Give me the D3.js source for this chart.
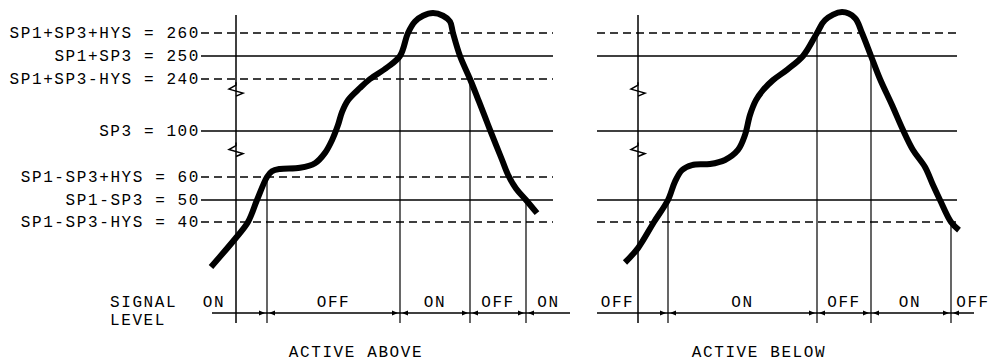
<!DOCTYPE html>
<html>
<head>
<meta charset="utf-8">
<script src="https://cdn.jsdelivr.net/npm/d3@7"></script>
<style>
  body { margin: 0; background: #fff; }
  svg { display: block; }
  text { font-family: "Liberation Mono", "DejaVu Sans Mono", monospace; font-size: 16px; letter-spacing: 1.6px; fill: #000; }
</style>
</head>
<body>
<svg id="chart" width="990" height="364"></svg>
<script>
// threshold levels (left axis)
const levelValues = [260, 250, 240, 100, 60, 50, 40];
const levelNames = ["SP1+SP3+HYS", "SP1+SP3", "SP1+SP3-HYS", "SP3", "SP1-SP3+HYS", "SP1-SP3", "SP1-SP3-HYS"];
// levels drawn in the "active below" panel
const belowLevels = [260, 250, 100, 50, 40];

// measured signal, left panel (time, value)
const aboveT = [-10, 0, 4.8, 8.4, 12.4, 14.4, 17.6, 25.6, 31.6, 35.6, 38.4, 40.8, 42.4, 44.8, 49.6, 53.6, 60.4, 65.6, 68.8, 71.6, 74.8, 78.8, 82.8, 85.6, 86.8, 89.6, 93.6, 96.8, 99.6, 101.6, 104, 106.4, 108.8, 112, 116, 120.4];
const aboveV = [20, 33, 40, 50, 60, 65, 67, 68, 72, 81, 92, 116, 151, 183, 216, 240, 245, 250, 260, 265, 267.5, 268.7, 267.5, 265, 260, 250, 240, 186, 138, 103, 88, 75, 62, 55, 50, 44];
// measured signal, right panel
const belowT = [-5.2, 0, 6.4, 12, 14.8, 17.6, 21.6, 28.8, 34.8, 40, 42.8, 44.8, 47.2, 50, 54, 59.6, 66, 71.6, 74.8, 81.6, 86.8, 89.6, 93.2, 96.8, 101.6, 106, 110, 114.8, 118, 120.8, 125.2, 128.4];
const belowV = [22, 28.4, 40, 50, 58, 66, 70.4, 71.3, 74.8, 83.5, 96.5, 143, 183, 210, 237, 244, 250, 260, 265.6, 269.1, 266.5, 260, 250, 240, 170, 102.7, 83.5, 68.7, 56.5, 50, 40, 36.4];

// switching points
const aboveSwitchT = [12.4, 65.6, 93.6, 116];
const aboveSwitchV = [60, 250, 240, 50];
const belowSwitchT = [12, 71.6, 93.2, 125.2];
const belowSwitchV = [50, 260, 250, 40];

// output state labels and where they sit on the time axis
const aboveStates = ["ON", "OFF", "ON", "OFF", "ON"];
const aboveStateT = [-8.8, 39, 79.6, 104.8, 125];
const belowStates = ["OFF", "ON", "OFF", "ON", "OFF"];
const belowStateT = [-8.2, 41.8, 82.4, 108.8, 134];

const breakValues = [210, 83];

const svg = d3.select("#chart");

// broken value axis -> piecewise linear scale
const y = d3.scaleLinear()
  .domain([20, 40, 50, 60, 100, 240, 250, 260, 270])
  .range([267, 222, 200, 177, 131, 79, 56, 33, 10]);

const axisTop = 15, axisBottom = 323, signalY = 313;

function drawPanel(opts) {
  const x = d3.scaleLinear().domain([0, 100]).range([opts.axisX, opts.axisX + 250]);
  const g = svg.append("g");

  // threshold lines
  opts.levels.forEach(v => {
    const name = levelNames[levelValues.indexOf(v)];
    g.append("line")
      .attr("x1", x(opts.lineStart)).attr("x2", x(opts.lineEnd))
      .attr("y1", y(v)).attr("y2", y(v))
      .attr("stroke", "#000").attr("stroke-width", 1.3)
      .attr("stroke-dasharray", name.includes("HYS") ? "8,5" : null);
    if (opts.labels) {
      g.append("text")
        .attr("x", x(opts.lineStart) - 1).attr("y", y(v) + 5)
        .attr("text-anchor", "end")
        .text(`${name} = ${v}`);
    }
  });

  // vertical axis with break marks
  g.append("line")
    .attr("x1", x(0)).attr("x2", x(0))
    .attr("y1", axisTop).attr("y2", axisBottom)
    .attr("stroke", "#000").attr("stroke-width", 1.5);
  breakValues.forEach(v => {
    const cy = y(v);
    g.append("path")
      .attr("d", `M${x(0)},${cy - 8}L${x(0)},${cy - 5}L${x(0) - 7},${cy - 1}L${x(0) + 7},${cy + 3}L${x(0)},${cy + 6}`)
      .attr("fill", "none").attr("stroke", "#000").attr("stroke-width", 1.5)
      .attr("stroke-linejoin", "miter");
  });

  // drop lines at switching points
  opts.switchT.forEach((t, i) => {
    g.append("line")
      .attr("x1", x(t)).attr("x2", x(t))
      .attr("y1", y(opts.switchV[i])).attr("y2", axisBottom)
      .attr("stroke", "#000").attr("stroke-width", 1.2);
    // little arrowheads on the signal line
    [-1, 1].forEach(s => {
      const px = x(t) + s * 2;
      g.append("path")
        .attr("d", `M${px},${signalY}L${px + s * 6},${signalY - 2.5}L${px + s * 6},${signalY + 2.5}Z`)
        .attr("fill", "#000");
    });
  });

  // signal level line
  g.append("line")
    .attr("x1", x(opts.sigStart)).attr("x2", x(opts.sigEnd))
    .attr("y1", signalY).attr("y2", signalY)
    .attr("stroke", "#000").attr("stroke-width", 1.6);

  g.selectAll("text.state")
    .data(opts.states)
    .join("text")
    .attr("class", "state")
    .attr("x", (d, i) => x(opts.stateT[i]))
    .attr("y", 307)
    .attr("text-anchor", "middle")
    .text(d => d);

  // the measured curve
  const pts = opts.curveT.map((t, i) => [t, opts.curveV[i]]);
  g.append("path")
    .datum(pts)
    .attr("d", d3.line().x(d => x(d[0])).y(d => y(d[1])).curve(d3.curveCatmullRom.alpha(0.5)))
    .attr("fill", "none").attr("stroke", "#000").attr("stroke-width", 6)
    .attr("stroke-linejoin", "round");

  g.append("text")
    .attr("x", opts.titleX).attr("y", 357)
    .attr("text-anchor", "middle")
    .text(opts.title);
}

drawPanel({
  axisX: 236, levels: levelValues, labels: true,
  lineStart: -14, lineEnd: 126.8, sigStart: -9.6, sigEnd: 133.6,
  curveT: aboveT, curveV: aboveV,
  switchT: aboveSwitchT, switchV: aboveSwitchV,
  states: aboveStates, stateT: aboveStateT,
  title: "ACTIVE ABOVE", titleX: 356
});

drawPanel({
  axisX: 638, levels: belowLevels, labels: false,
  lineStart: -16.4, lineEnd: 127.6, sigStart: -16.4, sigEnd: 134.4,
  curveT: belowT, curveV: belowV,
  switchT: belowSwitchT, switchV: belowSwitchV,
  states: belowStates, stateT: belowStateT,
  title: "ACTIVE BELOW", titleX: 759
});

svg.append("text").attr("x", 110).attr("y", 307).text("SIGNAL");
svg.append("text").attr("x", 110).attr("y", 325).text("LEVEL");
</script>
</body>
</html>
